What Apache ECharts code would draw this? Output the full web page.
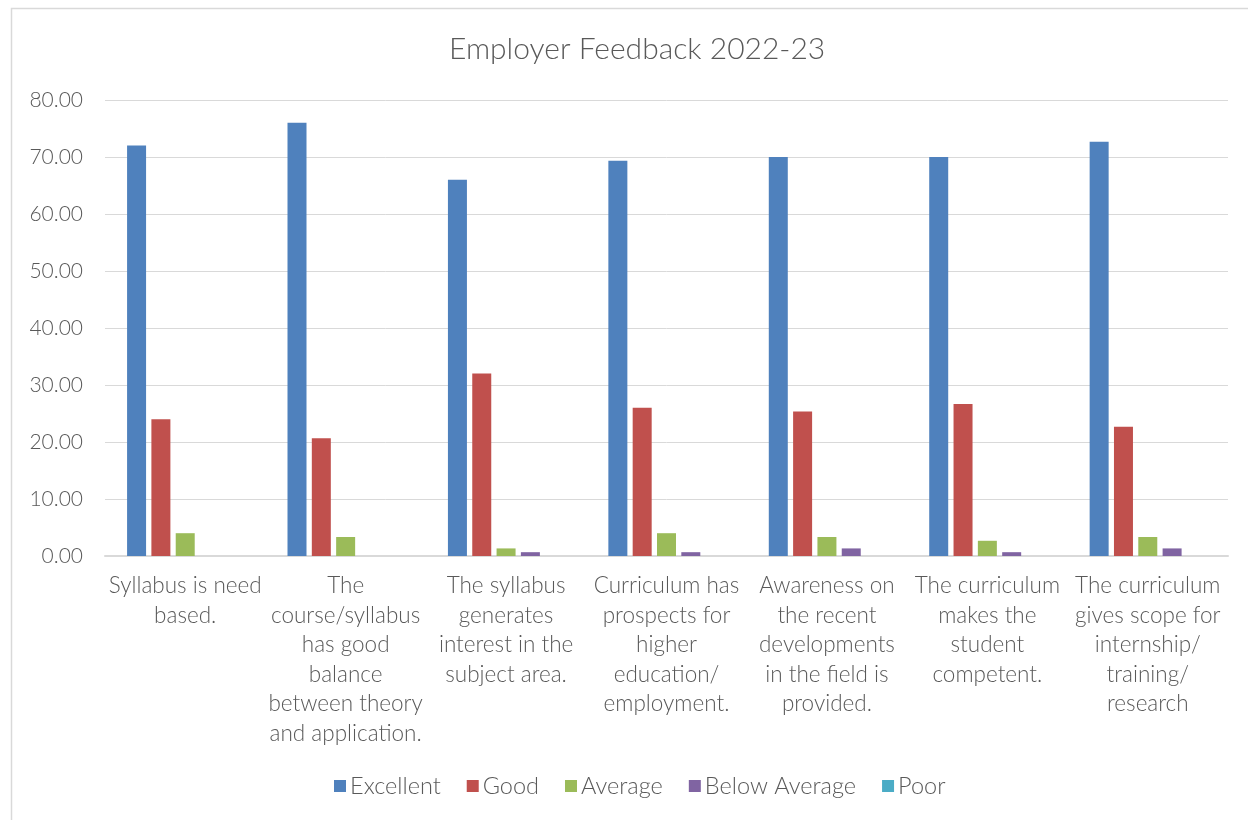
<!DOCTYPE html>
<html>
<head>
<meta charset="utf-8">
<script src="https://cdn.jsdelivr.net/npm/echarts@6/dist/echarts.min.js"></script>
<style>
  html, body { margin: 0; padding: 0; background: #ffffff; }
  #chart { width: 1248px; height: 820px; }
</style>
</head>
<body>
<div id="chart"></div>
<script>
// Survey categories (wrapped the way they appear under the axis)
const categories = [
  'Syllabus is need\nbased.',
  'The\ncourse/syllabus\nhas good\nbalance\nbetween theory\nand application.',
  'The syllabus\ngenerates\ninterest in the\nsubject area.',
  'Curriculum has\nprospects for\nhigher\neducation/\nemployment.',
  'Awareness on\nthe recent\ndevelopments\nin the field is\nprovided.',
  'The curriculum\nmakes the\nstudent\ncompetent.',
  'The curriculum\ngives scope for\ninternship/\ntraining/\nresearch'
];

// Percentage of responses per rating
const excellent    = [72.00, 76.00, 66.00, 69.33, 70.00, 70.00, 72.67];
const good         = [24.00, 20.67, 32.00, 26.00, 25.33, 26.67, 22.67];
const average      = [4.00, 3.33, 1.33, 4.00, 3.33, 2.67, 3.33];
const belowAverage = [0.00, 0.00, 0.67, 0.67, 1.33, 0.67, 1.33];
const poor         = [0.00, 0.00, 0.00, 0.00, 0.00, 0.00, 0.00];

const yTicks = { min: 0, max: 80, interval: 10 };

const FONT = 'Lato';
const TEXT = '#595959';

const seriesDefs = [
  { name: 'Excellent', data: excellent, color: '#4F81BD' },
  { name: 'Good', data: good, color: '#C0504D' },
  { name: 'Average', data: average, color: '#9BBB59' },
  { name: 'Below Average', data: belowAverage, color: '#8064A2' },
  { name: 'Poor', data: poor, color: '#4BACC6' }
];

const chart = echarts.init(document.getElementById('chart'), null, { renderer: 'canvas' });

chart.setOption({
  backgroundColor: '#ffffff',
  animation: false,
  title: {
    text: 'Employer Feedback 2022-23',
    left: 444,
    top: 29,
    textStyle: { fontFamily: FONT, fontWeight: 300, fontSize: 30, color: TEXT }
  },
  graphic: [{
    type: 'rect',
    shape: { x: 11.5, y: 8.5, width: 1400, height: 1000 },
    style: { fill: 'none', stroke: '#d9d9d9', lineWidth: 1.5 },
    silent: true
  }],
  legend: {
    bottom: 17,
    left: 329,
    itemWidth: 12,
    itemHeight: 12,
    itemGap: 26,
    icon: 'rect',
    textStyle: { fontFamily: FONT, fontWeight: 300, fontSize: 23.5, color: TEXT, padding: [0, 0, 0, -1] },
    data: seriesDefs.map(s => s.name)
  },
  grid: { left: 105, right: 20, top: 100, bottom: 264, containLabel: false },
  xAxis: {
    type: 'category',
    data: categories,
    axisTick: { show: false },
    axisLine: { show: true, lineStyle: { color: '#d9d9d9', width: 2 } },
    axisLabel: {
      interval: 0,
      margin: 15,
      fontFamily: FONT,
      fontWeight: 300,
      fontSize: 22.5,
      lineHeight: 29.5,
      color: TEXT,
      align: 'center'
    }
  },
  yAxis: {
    type: 'value',
    min: yTicks.min,
    max: yTicks.max,
    interval: yTicks.interval,
    axisLine: { show: false },
    axisTick: { show: false },
    splitLine: { lineStyle: { color: '#d9d9d9', width: 1 } },
    axisLabel: {
      margin: 22,
      fontFamily: FONT,
      fontWeight: 300,
      fontSize: 21,
      color: TEXT,
      formatter: v => v.toFixed(2)
    }
  },
  series: seriesDefs.map(s => ({
    name: s.name,
    type: 'bar',
    data: s.data,
    barWidth: 19,
    barGap: '28%',
    itemStyle: { color: s.color },
    emphasis: { disabled: true }
  }))
});
</script>
</body>
</html>
